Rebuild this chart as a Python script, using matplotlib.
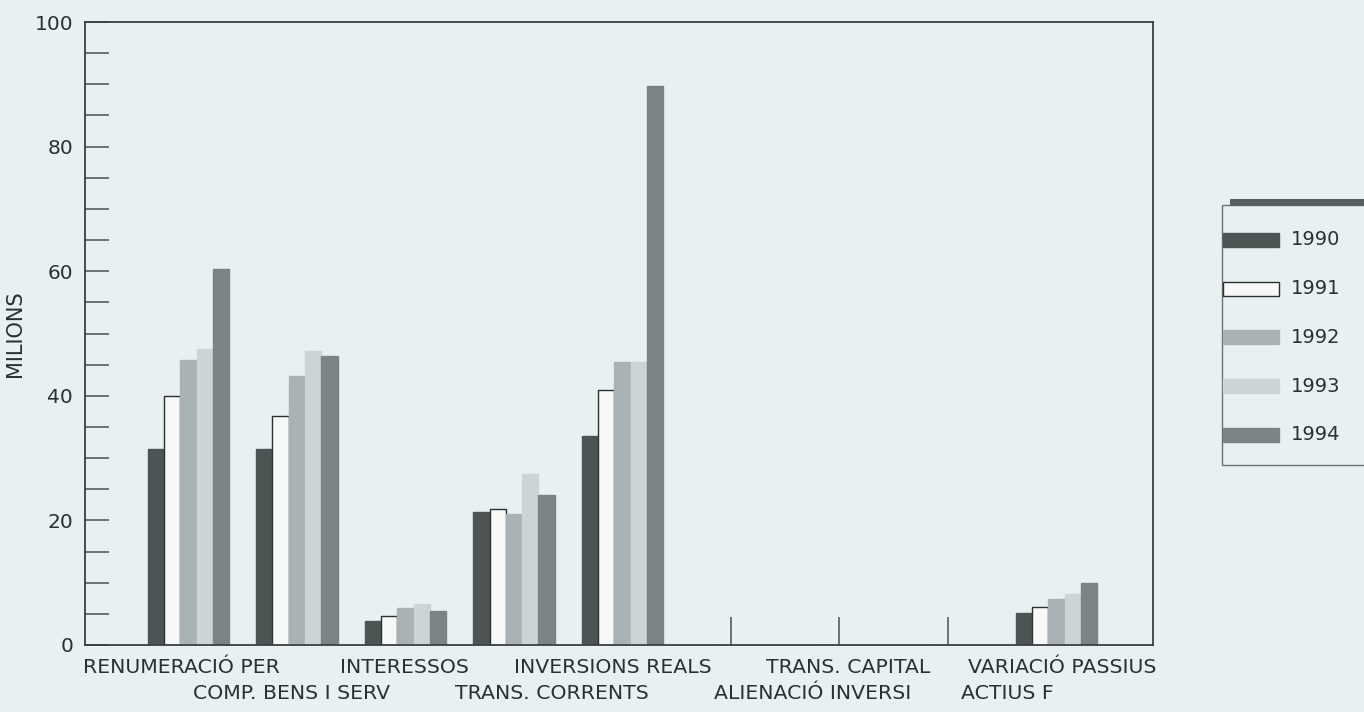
import matplotlib
matplotlib.use("Agg")
import numpy as np
import matplotlib.pyplot as plt
from matplotlib.patches import Rectangle

# Data (millions)
categories = ["RENUMERACIÓ PER", "COMP. BENS I SERV", "INTERESSOS", "TRANS. CORRENTS",
              "INVERSIONS REALS", "ALIENACIÓ INVERSI", "TRANS. CAPITAL", "ACTIUS F",
              "VARIACIÓ PASSIUS"]
years = ["1990", "1991", "1992", "1993", "1994"]
v1990 = [31.5, 31.5, 3.9, 21.3, 33.6, 0, 0, 0, 5.1]
v1991 = [40.0, 36.7, 4.7, 21.8, 41.0, 0, 0, 0, 6.1]
v1992 = [45.7, 43.1, 5.9, 21.1, 45.4, 0, 0, 0, 7.4]
v1993 = [47.5, 47.2, 6.6, 27.4, 45.4, 0, 0, 0, 8.2]
v1994 = [60.3, 46.4, 5.5, 24.1, 89.8, 0, 0, 0, 10.0]
series = [v1990, v1991, v1992, v1993, v1994]

# styling
bg = "#e9f0f1"
ink = "#2b3031"
faces = ["#4d5554", "#f7f9f9", "#a9b3b5", "#cbd5d8", "#7a8484"]
edges = ["#4d5554", "#2b3031", "#a9b3b5", "#cbd5d8", "#7a8484"]
# horizontal nudge of the staggered category labels (category units)
label_nudge = [-0.06, -0.05, -0.01, 0.35, -0.09, 0.75, 0.08, 0.55, 0.05]

W, H = 1364, 712
fig = plt.figure(figsize=(W / 100, H / 100), dpi=100, facecolor=bg)
ax = fig.add_axes([85 / W, 1 - 645 / H, (1153 - 85) / W, (645 - 22) / H])
ax.set_facecolor(bg)

x = np.arange(len(categories))
w = 0.15
for j, vals in enumerate(series):
    ax.bar(x + (j - 2) * w, vals, width=w, color=faces[j], edgecolor=edges[j],
           linewidth=1.0, zorder=2)

ax.set_xlim(-0.953, 8.89)
ax.set_ylim(0, 100)

# y axis: inward ticks every 5, labels every 20
ax.set_yticks(np.arange(0, 101, 20))
ax.set_yticks(np.arange(0, 101, 5), minor=True)
ax.tick_params(axis="y", which="both", direction="in", length=17, width=1.1,
               color="#4a5050", labelsize=14.5, labelcolor=ink, pad=8.6)
ax.set_ylabel("MILIONS", fontsize=15, color=ink, labelpad=7)

# x axis: short marks only where a category has no bars
empty = [i for i in range(len(categories)) if max(s[i] for s in series) == 0]
ax.set_xticks(empty)
ax.tick_params(axis="x", direction="in", length=20, width=1.1, color="#4a5050",
               labelbottom=False)

for sp in ax.spines.values():
    sp.set_color("#3a4041")
    sp.set_linewidth(1.3)

# staggered category labels
for i, name in enumerate(categories):
    off = -16 if i % 2 == 0 else -35
    ax.annotate(name, xy=(i + label_nudge[i], 0), xycoords=("data", "axes fraction"),
                xytext=(0, off), textcoords="offset points", ha="center", va="center",
                fontsize=14.7, color=ink, annotation_clip=False)

# legend drawn by hand (its box runs off the right edge)
tf = fig.transFigure
fig.add_artist(Rectangle((1222 / W, 1 - 465 / H), 160 / W, 260 / H, transform=tf,
                         facecolor=bg, edgecolor="#6a7172", linewidth=1.0))
fig.add_artist(Rectangle((1230 / W, 1 - 206 / H), 140 / W, 7 / H, transform=tf,
                         facecolor="#566060", edgecolor="none"))
for j, yr in enumerate(years):
    yc = 240 + j * 48.7
    fig.add_artist(Rectangle((1223 / W, 1 - (yc + 7) / H), 56 / W, 14 / H, transform=tf,
                             facecolor=faces[j], edgecolor=edges[j], linewidth=1.0))
    fig.text(1291 / W, 1 - yc / H, yr, fontsize=14, color=ink, va="center", ha="left")

fig.savefig("out.png", dpi=100, facecolor=bg)
